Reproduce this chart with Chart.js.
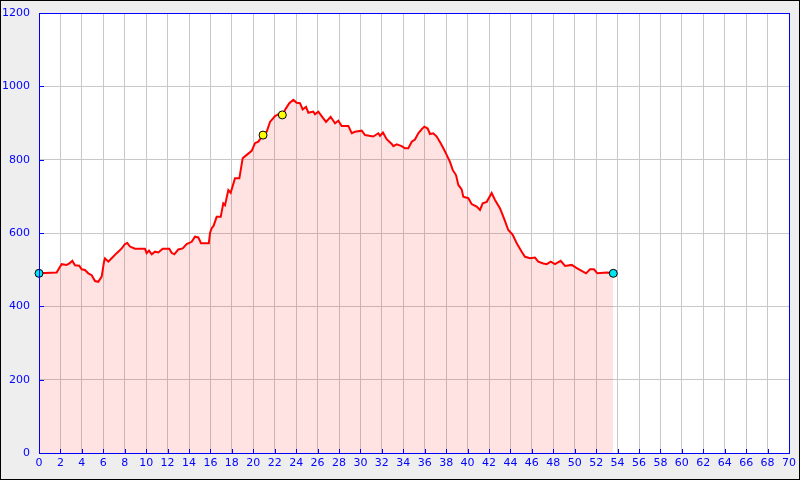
<!DOCTYPE html>
<html><head><meta charset="utf-8">
<script src="https://cdn.jsdelivr.net/npm/chart.js@4/dist/chart.umd.min.js"></script>
<style>html,body{margin:0;padding:0;background:#eeeeee;}canvas{display:block;}</style>
</head><body>
<div style="width:800px;height:480px;"><canvas id="c" width="800" height="480"></canvas></div>
<script>
const distanceKm = [0,1.65,1.96,2.12,2.58,2.83,3.11,3.36,3.76,3.98,4.29,4.6,4.92,5.23,5.53,5.85,6.07,6.16,6.47,6.78,7.25,7.72,8.03,8.24,8.49,8.96,9.89,10.05,10.27,10.52,10.83,11.14,11.54,12.16,12.38,12.63,13.0,13.41,13.78,14.25,14.56,14.87,15.12,15.85,15.96,16.12,16.3,16.58,16.96,17.2,17.36,17.67,17.89,18.29,18.7,19.01,19.39,19.85,20.16,20.47,20.91,21.25,21.56,22.03,22.34,22.71,23.05,23.36,23.74,24.05,24.36,24.61,24.92,25.14,25.6,25.76,26.07,26.38,26.79,27.22,27.63,27.94,28.25,28.87,29.19,29.49,30.12,30.43,31.2,31.67,31.83,32.1,32.45,32.92,33.07,33.39,33.85,34.16,34.47,34.79,35.09,35.4,35.72,35.96,36.28,36.49,36.8,37.12,37.49,37.74,38.05,38.36,38.61,38.92,39.14,39.45,39.6,40.07,40.38,40.85,41.16,41.41,41.79,42.25,42.56,43.03,43.4,43.8,44.2,44.59,45.05,45.36,45.83,46.29,46.6,47.07,47.39,47.76,48.16,48.69,49.1,49.72,50.19,50.65,51.06,51.43,51.8,52.11,52.99,53.6];
const elevationM = [490,492,508,515,513,517,524,512,511,501,499,490,485,469,467,481,522,531,522,531,545,558,570,573,563,557,557,545,552,542,549,547,557,557,546,542,555,558,570,576,590,588,572,572,600,613,620,644,644,681,676,717,710,749,749,804,813,824,845,849,867,876,903,919,924,922,940,954,963,955,954,937,944,928,931,924,931,919,903,917,899,906,892,892,872,876,879,867,863,872,865,874,856,843,837,842,837,831,831,849,855,872,883,890,885,870,872,863,845,831,813,794,772,758,731,719,699,695,679,672,663,681,685,709,690,667,640,608,596,572,549,535,531,533,522,517,515,522,515,524,510,513,504,497,490,501,501,490,492,490];
const endpointX = [0, 53.6];
const endpointY = [490, 490];
const waypointX = [20.91, 22.71];
const waypointY = [867, 922];
const xTickStep = 2;
const yTickStep = 200;

const profile = distanceKm.map((d,i)=>({x:d,y:elevationM[i]}));
const endpoints = endpointX.map((d,i)=>({x:d,y:endpointY[i]}));
const waypoints = waypointX.map((d,i)=>({x:d,y:waypointY[i]}));

const frame = {
  id:'frame',
  beforeDraw(chart){
    const ctx=chart.ctx, a=chart.chartArea;
    ctx.save();
    ctx.fillStyle='#eeeeee'; ctx.fillRect(0,0,chart.width,chart.height);
    ctx.fillStyle='#ffffff'; ctx.fillRect(a.left,a.top,a.right-a.left,a.bottom-a.top);
    ctx.restore();
  },
  afterDraw(chart){
    const ctx=chart.ctx, a=chart.chartArea, xs=chart.scales.x, ys=chart.scales.y;
    ctx.save();
    ctx.strokeStyle='#0000ff'; ctx.lineWidth=1;
    ctx.beginPath();
    ys.ticks.forEach(t=>{const p=Math.round(ys.getPixelForValue(t.value))+0.5; ctx.moveTo(a.left,p); ctx.lineTo(a.left+5,p);});
    xs.ticks.forEach(t=>{const p=Math.round(xs.getPixelForValue(t.value))+0.5; ctx.moveTo(p,a.bottom); ctx.lineTo(p,a.bottom-4);});
    ctx.stroke();
    ctx.strokeRect(Math.round(a.left)+0.5,Math.round(a.top)+0.5,Math.round(a.right-a.left),Math.round(a.bottom-a.top));
    ctx.strokeStyle='#000000';
    ctx.strokeRect(0.5,0.5,chart.width-1,chart.height-1);
    ctx.restore();
  }
};

Chart.defaults.font.family='DejaVu Sans';
Chart.defaults.font.size=11;

new Chart(document.getElementById('c'),{
  type:'line',
  data:{datasets:[
    {data:waypoints,type:'scatter',showLine:false,pointRadius:4,pointBackgroundColor:'#ffff00',pointBorderColor:'#000000',pointBorderWidth:1,clip:false,order:0},
    {data:endpoints,type:'scatter',showLine:false,pointRadius:4,pointBackgroundColor:'#00e5ee',pointBorderColor:'#000000',pointBorderWidth:1,clip:false,order:0},
    {data:profile,borderColor:'#ff0000',borderWidth:2,backgroundColor:'rgba(255,0,0,0.11)',fill:'origin',pointRadius:0,tension:0,order:1}
  ]},
  options:{
    responsive:false,animation:false,
    layout:{padding:{left:0,right:11,top:13,bottom:0}},
    plugins:{legend:{display:false},tooltip:{enabled:false}},
    scales:{
      x:{type:'linear',min:0,max:70,
        ticks:{stepSize:xTickStep,color:'#0000ff',padding:4,maxRotation:0,autoSkip:false,callback:v=>String(v)},
        grid:{color:'#c8c8c8',drawTicks:false},
        border:{display:false},
        afterFit(s){s.height=27;s.paddingLeft=0;s.paddingRight=0;}
      },
      y:{min:0,max:1200,
        ticks:{stepSize:yTickStep,color:'#0000ff',padding:9,callback:v=>String(v)},
        grid:{color:'#c8c8c8',drawTicks:false},
        border:{display:false},
        afterFit(s){s.width=39;s.paddingTop=0;s.paddingBottom=0;}
      }
    }
  },
  plugins:[frame]
});
</script>
</body></html>
